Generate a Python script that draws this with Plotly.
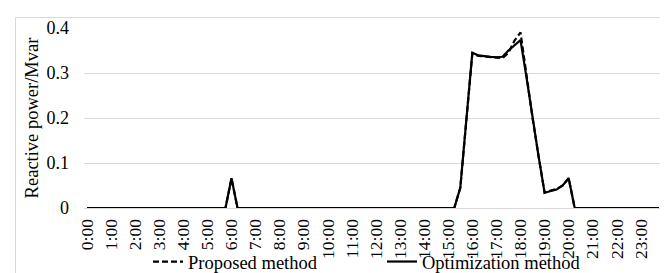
import plotly.graph_objects as go

# 15-minute time steps (96 per day); labels shown every hour
time_labels = [f"{h}:{m:02d}" for h in range(24) for m in (0, 15, 30, 45)]
hour_ticks = [f"{h}:00" for h in range(24)]

proposed = [
    0, 0, 0, 0,  0, 0, 0, 0,  0, 0, 0, 0,  0, 0, 0, 0,      # 0:00-3:45
    0, 0, 0, 0,  0, 0, 0, 0,                                # 4:00-5:45
    0.066, 0, 0, 0,                                         # 6:00
    0, 0, 0, 0,  0, 0, 0, 0,  0, 0, 0, 0,  0, 0, 0, 0,      # 7:00-10:45
    0, 0, 0, 0,  0, 0, 0, 0,  0, 0, 0, 0,  0, 0, 0, 0,      # 11:00-14:45
    0, 0, 0.045, 0.19,                                      # 15:00
    0.343, 0.338, 0.337, 0.336,                             # 16:00
    0.335, 0.333, 0.345, 0.372,                             # 17:00
    0.390, 0.29, 0.20, 0.115,                               # 18:00
    0.034, 0.039, 0.042, 0.050,                             # 19:00
    0.066, 0, 0, 0,                                         # 20:00
    0, 0, 0, 0,  0, 0, 0, 0,  0, 0, 0, 0,                   # 21:00-23:45
]

optimization = [
    0, 0, 0, 0,  0, 0, 0, 0,  0, 0, 0, 0,  0, 0, 0, 0,
    0, 0, 0, 0,  0, 0, 0, 0,
    0.066, 0, 0, 0,
    0, 0, 0, 0,  0, 0, 0, 0,  0, 0, 0, 0,  0, 0, 0, 0,
    0, 0, 0, 0,  0, 0, 0, 0,  0, 0, 0, 0,  0, 0, 0, 0,
    0, 0, 0.045, 0.19,
    0.345, 0.339, 0.337, 0.336,
    0.335, 0.336, 0.350, 0.362,
    0.373, 0.29, 0.20, 0.115,
    0.034, 0.037, 0.041, 0.050,
    0.066, 0, 0, 0,
    0, 0, 0, 0,  0, 0, 0, 0,  0, 0, 0, 0,
]

x_idx = list(range(len(time_labels)))
tick_idx = [time_labels.index(t) for t in hour_ticks]

FONT = "Liberation Serif"
GRID = "#d9d9d9"

fig = go.Figure()
fig.add_trace(go.Scatter(
    x=x_idx, y=proposed, mode="lines", name="Proposed method",
    line=dict(color="black", width=2.2, dash="6px,3px"),
))
fig.add_trace(go.Scatter(
    x=x_idx, y=optimization, mode="lines", name="Optimization method",
    line=dict(color="black", width=2.2),
))

fig.update_layout(
    width=668, height=273,
    margin=dict(l=76, r=14, t=20, b=73, autoexpand=False),
    paper_bgcolor="white", plot_bgcolor="white",
    font=dict(family=FONT, size=18, color="black"),
    showlegend=True,
    legend=dict(
        orientation="h", x=(140 - 76) / 578, xanchor="left", y=-0.30, yanchor="middle",
        font=dict(family=FONT, size=18.5, color="black"),
        bgcolor="rgba(0,0,0,0)", entrywidth=189, entrywidthmode="pixels",
        tracegroupgap=0,
    ),
    shapes=[dict(
        type="rect", xref="paper", yref="paper",
        x0=(7.5 - 76) / 578, x1=(667 - 76) / 578,
        y0=(200 - 290) / 180, y1=(200 - 9.5) / 180,
        line=dict(color=GRID, width=1), fillcolor="rgba(0,0,0,0)", layer="below",
    )],
)

fig.update_xaxes(
    range=[-0.5, len(x_idx) - 0.5],
    tickmode="array", tickvals=tick_idx, ticktext=hour_ticks,
    tickangle=-90, ticks="", ticklabelstandoff=3,
    showgrid=False, zeroline=False,
    showline=True, linecolor=GRID, linewidth=1,
    tickfont=dict(family=FONT, size=17.5, color="black"),
)
fig.update_yaxes(
    range=[0, 0.4], dtick=0.1, tick0=0,
    showgrid=True, gridcolor=GRID, gridwidth=1,
    zeroline=False, showline=False, ticks="", ticklabelstandoff=14,
    tickfont=dict(family=FONT, size=18, color="black"),
    title=dict(text="Reactive power/Mvar", standoff=3,
               font=dict(family=FONT, size=18.5, color="black")),
)

fig.write_html("out.html")
